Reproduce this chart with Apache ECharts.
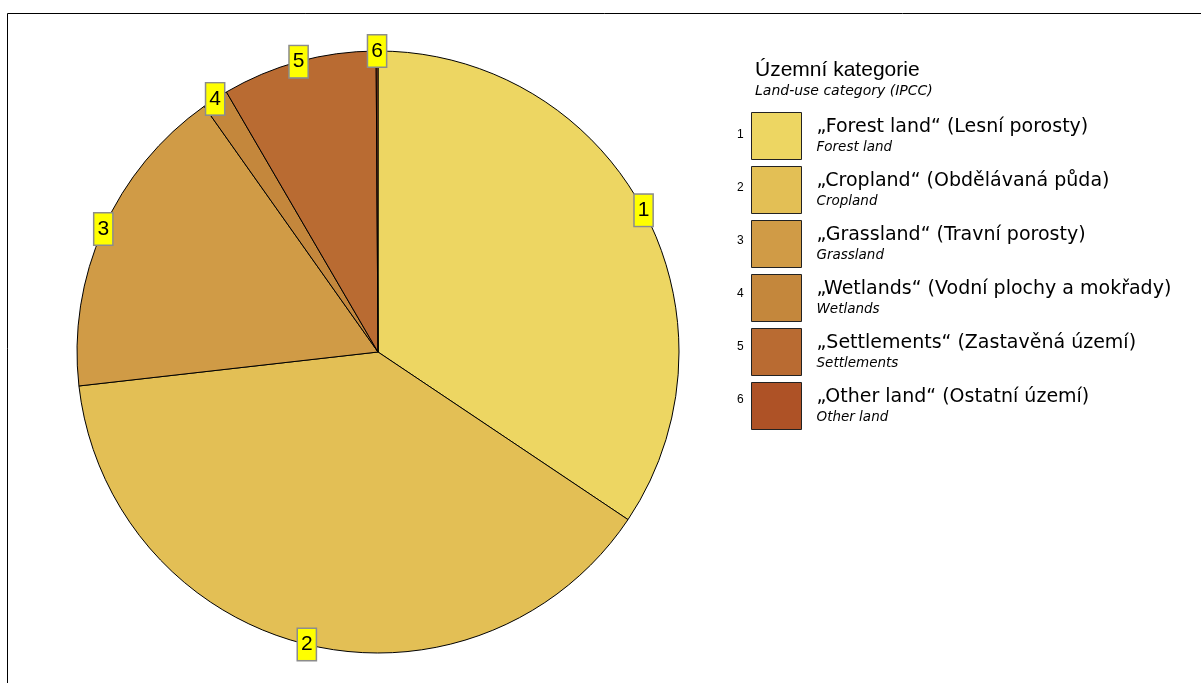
<!DOCTYPE html>
<html>
<head>
<meta charset="utf-8">
<script src="https://cdn.jsdelivr.net/npm/echarts@6/dist/echarts.min.js"></script>
<style>
  html, body { margin: 0; padding: 0; background: #fff; }
  #chart { width: 1201px; height: 683px; }
</style>
</head>
<body>
<div id="chart"></div>
<script>
// ---- data ----
const categories = ['Forest land', 'Cropland', 'Grassland', 'Wetlands', 'Settlements', 'Other land'];
const czechNames = ['„Forest land“ (Lesní porosty)', '„Cropland“ (Obdělávaná půda)', '„Grassland“ (Travní porosty)',
                    '„Wetlands“ (Vodní plochy a mokřady)', '„Settlements“ (Zastavěná území)', '„Other land“ (Ostatní území)'];
const englishNames = ['Forest land', 'Cropland', 'Grassland', 'Wetlands', 'Settlements', 'Other land'];
const numberLabels = ['1', '2', '3', '4', '5', '6'];
const shares = [34.4, 38.8, 17.0, 1.4, 8.3, 0.1];
const colors = ['#EDD662', '#E3BF55', '#D09B46', '#C4873C', '#B96B32', '#AE5226'];
const titleText = 'Územní kategorie';
const subtitleText = 'Land-use category (IPCC)';

const FONT = '"Liberation Sans", Arial, sans-serif';
const WIDE = '"DejaVu Sans", "Liberation Sans", sans-serif';
const chart = echarts.init(document.getElementById('chart'), null, { renderer: 'canvas' });

const CX = 378, CY = 352, R = 301;
const LEG_LEFT = 751, LEG_TOP = 112, ITEM_W = 50, ITEM_H = 47, ITEM_GAP = 6;

const legendNums = numberLabels.map((n, i) => ({
  type: 'text',
  left: 737,
  top: LEG_TOP + i * (ITEM_H + ITEM_GAP) + ITEM_H / 2 - 7,
  style: { text: n, fill: '#000', font: '12px ' + FONT }
}));

chart.setOption({
  backgroundColor: '#fff',
  animation: false,
  title: {
    text: titleText,
    subtext: subtitleText,
    left: 750,
    top: 55,
    itemGap: 3,
    textStyle: { fontFamily: FONT, fontSize: 21, fontWeight: 'normal', color: '#000' },
    subtextStyle: { fontFamily: WIDE, fontSize: 14, fontStyle: 'italic', color: '#000' }
  },
  legend: {
    orient: 'vertical',
    left: LEG_LEFT,
    top: LEG_TOP,
    padding: 0,
    itemWidth: ITEM_W,
    itemHeight: ITEM_H,
    itemGap: ITEM_GAP,
    icon: 'rect',
    selectedMode: false,
    data: categories,
    itemStyle: { borderColor: '#222', borderWidth: 1 },
    formatter: function (name) {
      const i = categories.indexOf(name);
      return '{a|' + czechNames[i] + '}\n{b|' + englishNames[i] + '}';
    },
    textStyle: {
      rich: {
        a: { fontFamily: WIDE, fontSize: 19, color: '#000', lineHeight: 22, padding: [0, 0, 0, 10] },
        b: { fontFamily: WIDE, fontSize: 13.5, fontStyle: 'italic', color: '#000', lineHeight: 17, padding: [0, 0, 0, 10] }
      }
    }
  },
  graphic: [
    { type: 'line', shape: { x1: 7.5, y1: 13.5, x2: 1201, y2: 13.5 }, style: { stroke: '#000', lineWidth: 1 } },
    { type: 'line', shape: { x1: 7.5, y1: 13.5, x2: 7.5, y2: 683 }, style: { stroke: '#000', lineWidth: 1 } }
  ].concat(legendNums),
  series: [
    {
      type: 'pie',
      center: [CX, CY],
      radius: R,
      startAngle: 90,
      clockwise: true,
      silent: true,
      label: { show: false },
      labelLine: { show: false },
      itemStyle: { borderColor: '#000', borderWidth: 1 },
      data: categories.map((c, i) => ({ name: c, value: shares[i], itemStyle: { color: colors[i] } }))
    },
    {
      type: 'pie',
      center: [CX, CY],
      radius: [R - 10, R + 4],
      startAngle: 90,
      clockwise: true,
      silent: true,
      itemStyle: { color: 'transparent', borderWidth: 0 },
      labelLine: { show: false },
      label: {
        show: true,
        position: 'inside',
        formatter: '{b}',
        fontFamily: FONT,
        fontSize: 21,
        lineHeight: 24,
        color: '#000',
        backgroundColor: '#FFFF00',
        borderColor: '#8c8c8c',
        borderWidth: 1.5,
        padding: [4, 3, 3, 3]
      },
      emphasis: { disabled: true },
      data: numberLabels.map((n, i) => ({ name: n, value: shares[i] }))
    }
  ]
});
</script>
</body>
</html>
